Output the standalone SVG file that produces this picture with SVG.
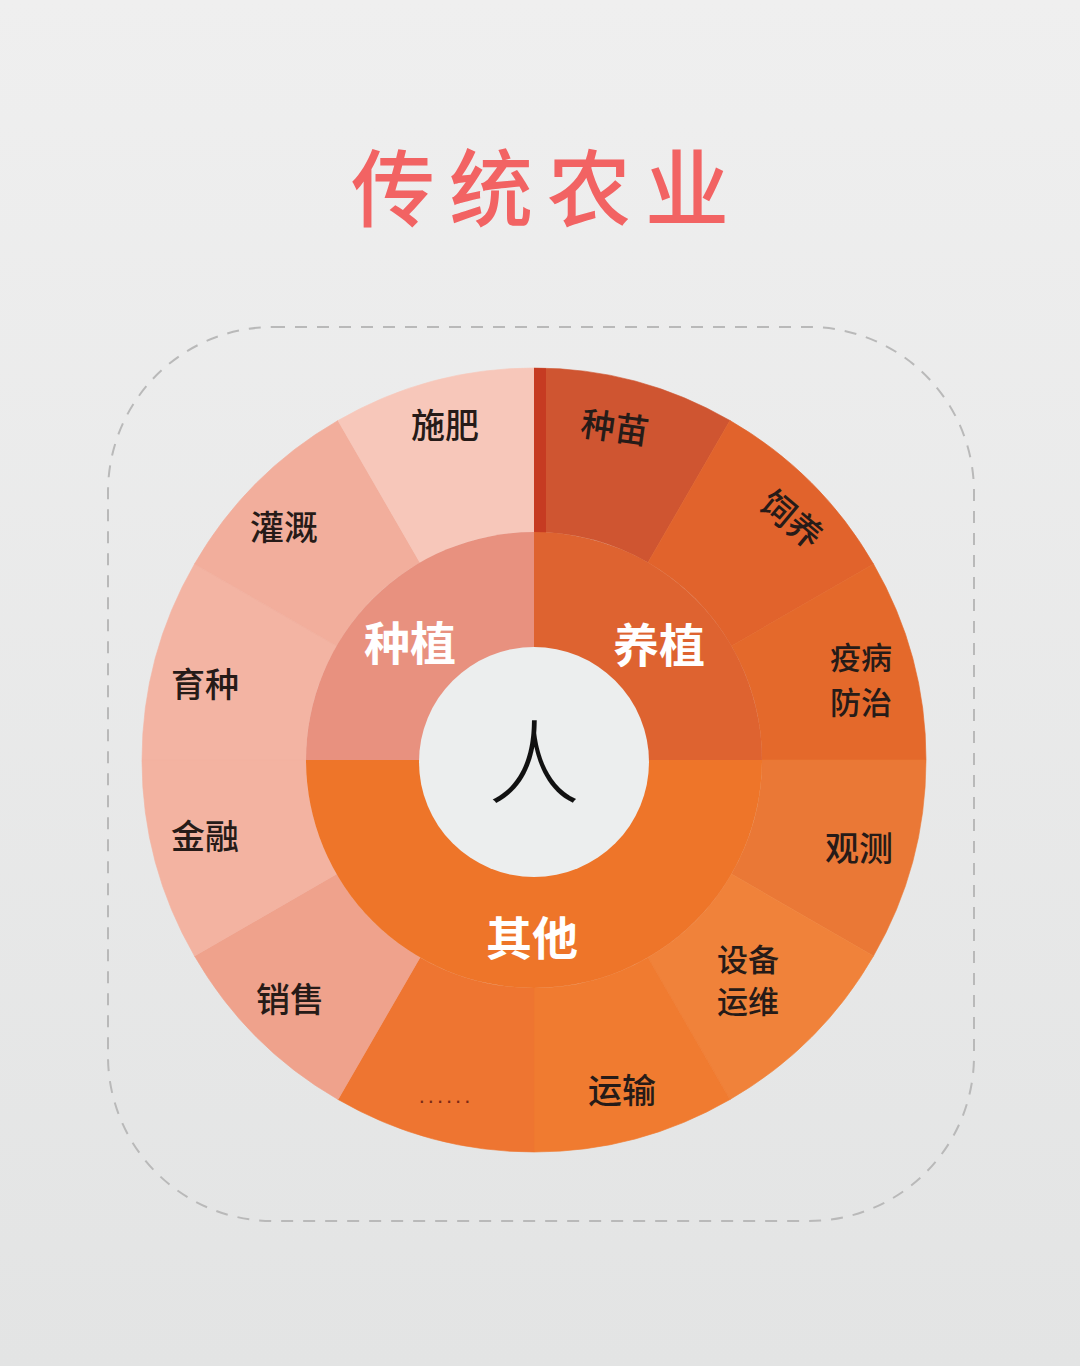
<svg xmlns="http://www.w3.org/2000/svg" xmlns:xlink="http://www.w3.org/1999/xlink" width="1080" height="1366" viewBox="0 0 1080 1366">
  <style>
    .lbl { font-family: "Noto Sans CJK SC", "Noto Sans", sans-serif; font-size: 34px; font-weight: 500; fill: #261b18; text-anchor: middle; }
    .lbl2 { font-family: "Noto Sans CJK SC", "Noto Sans", sans-serif; font-size: 31px; font-weight: 500; fill: #261b18; text-anchor: middle; }
    .cat { font-family: "Noto Sans CJK SC", "Noto Sans", sans-serif; font-size: 46px; font-weight: 700; fill: #ffffff; text-anchor: middle; }
    .title { font-family: "Noto Sans CJK SC", "Noto Sans CJK JP", sans-serif; font-size: 84px; font-weight: 500; fill: #f26363; text-anchor: middle; letter-spacing: 14px; }
    .hub { font-family: "Noto Sans CJK SC", "Noto Sans CJK JP", sans-serif; font-size: 92px; font-weight: 300; fill: #111111; text-anchor: middle; }
  </style>
  <defs>
    <linearGradient id="bg" x1="0" y1="0" x2="0" y2="1">
      <stop offset="0" stop-color="#efefef"/>
      <stop offset="1" stop-color="#e3e4e4"/>
    </linearGradient>
    <path id="wedge" d="M534,368 A392,392 0 0 1 730,420.52 L648,562.55 A228,228 0 0 0 534,532 Z"/>
    <clipPath id="disc"><circle cx="534" cy="760" r="392"/></clipPath>
  </defs>

  <rect x="0" y="0" width="1080" height="1366" fill="url(#bg)"/>

  <g id="title">
    <text class="title" x="547" y="220">传统农业</text>
  </g>

  <g id="frame">
    <rect x="108" y="327" width="866" height="894" rx="165" ry="165" fill="none" stroke="#b9b9b9" stroke-width="2" stroke-dasharray="12 10"/>
  </g>

  <!-- outer ring segments -->
  <g id="seg-zhongmiao"><use xlink:href="#wedge" fill="#cf5531" stroke="#cf5531" stroke-width="0.6"/></g>
  <g id="seg-siyang"><use xlink:href="#wedge" transform="rotate(30 534 760)" fill="#e1632c" stroke="#e1632c" stroke-width="0.6"/></g>
  <g id="seg-yibing"><use xlink:href="#wedge" transform="rotate(60 534 760)" fill="#e4692b" stroke="#e4692b" stroke-width="0.6"/></g>
  <g id="seg-guance"><use xlink:href="#wedge" transform="rotate(90 534 760)" fill="#ea7836" stroke="#ea7836" stroke-width="0.6"/></g>
  <g id="seg-shebei"><use xlink:href="#wedge" transform="rotate(120 534 760)" fill="#f0823a" stroke="#f0823a" stroke-width="0.6"/></g>
  <g id="seg-yunshu"><use xlink:href="#wedge" transform="rotate(150 534 760)" fill="#f07b30" stroke="#f07b30" stroke-width="0.6"/></g>
  <g id="seg-more"><use xlink:href="#wedge" transform="rotate(180 534 760)" fill="#ee7531" stroke="#ee7531" stroke-width="0.6"/></g>
  <g id="seg-xiaoshou"><use xlink:href="#wedge" transform="rotate(210 534 760)" fill="#efa28c" stroke="#efa28c" stroke-width="0.6"/></g>
  <g id="seg-jinrong"><use xlink:href="#wedge" transform="rotate(240 534 760)" fill="#f3b3a1" stroke="#f3b3a1" stroke-width="0.6"/></g>
  <g id="seg-yuzhong"><use xlink:href="#wedge" transform="rotate(270 534 760)" fill="#f3b4a3" stroke="#f3b4a3" stroke-width="0.6"/></g>
  <g id="seg-guangai"><use xlink:href="#wedge" transform="rotate(300 534 760)" fill="#f2ae9c" stroke="#f2ae9c" stroke-width="0.6"/></g>
  <g id="seg-shifei"><use xlink:href="#wedge" transform="rotate(330 534 760)" fill="#f7c7ba" stroke="#f7c7ba" stroke-width="0.6"/></g>

  <!-- texture accents -->
  <g id="accents" clip-path="url(#disc)">
    <rect x="534" y="360" width="12" height="255" fill="#c63b22"/>
  </g>

  <!-- inner ring -->
  <g id="zhongzhi">
    <path d="M534,760 L306,760 A228,228 0 0 1 534,532 Z" fill="#e8917f"/>
    <text class="cat" x="410" y="660">种植</text>
  </g>
  <g id="yangzhi">
    <path d="M534,760 L534,532 A228,228 0 0 1 762,760 Z" fill="#de6330"/>
    <text class="cat" x="659" y="662">养植</text>
  </g>
  <g id="qita">
    <path d="M534,760 L762,760 A228,228 0 0 1 306,760 Z" fill="#ee7529"/>
    <text class="cat" x="532" y="955">其他</text>
  </g>

  <g id="hub">
    <circle cx="534" cy="762" r="115" fill="#eceeee"/>
    <text class="hub" x="534" y="797">人</text>
  </g>

  <!-- outer labels -->
  <g id="lbl-shifei"><text class="lbl" x="445" y="438">施肥</text></g>
  <g id="lbl-guangai"><text class="lbl" x="284" y="540">灌溉</text></g>
  <g id="lbl-yuzhong"><text class="lbl" x="205" y="697">育种</text></g>
  <g id="lbl-jinrong"><text class="lbl" x="205" y="849">金融</text></g>
  <g id="lbl-xiaoshou"><text class="lbl" x="290" y="1012">销售</text></g>
  <g id="lbl-more"><text x="446" y="1103" font-family="Liberation Sans, sans-serif" font-size="22" fill="#7a2a16" text-anchor="middle" letter-spacing="3">......</text></g>
  <g id="lbl-yunshu"><text class="lbl" x="622" y="1103">运输</text></g>
  <g id="lbl-shebei"><text class="lbl2" x="748" y="971">设备</text><text class="lbl2" x="748" y="1013">运维</text></g>
  <g id="lbl-guance"><text class="lbl" x="859" y="861">观测</text></g>
  <g id="lbl-yibing"><text class="lbl2" x="861" y="669">疫病</text><text class="lbl2" x="861" y="714">防治</text></g>
  <g id="lbl-siyang"><text class="lbl" transform="rotate(40 792 519)" x="792" y="532">饲养</text></g>
  <g id="lbl-zhongmiao"><text class="lbl" transform="rotate(8 615 427)" x="615" y="440">种苗</text></g>
</svg>
